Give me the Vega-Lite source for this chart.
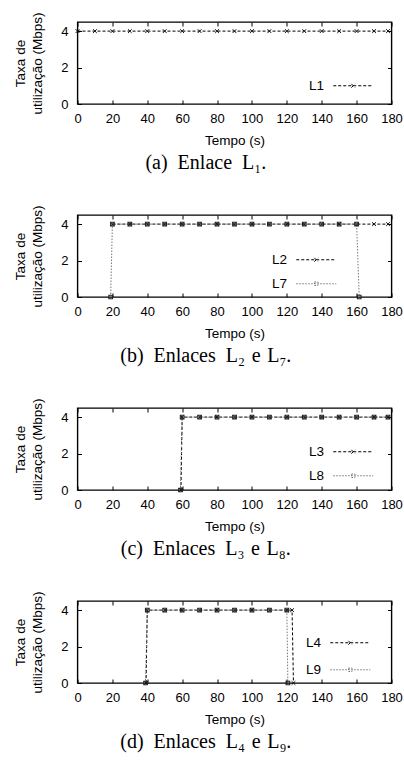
{
  "$schema": "https://vega.github.io/schema/vega-lite/v6.json",
  "padding": {"left": 12.5, "top": 11, "right": 0, "bottom": 0},
  "spacing": 30,
  "datasets": {
    "a": [
      {"s": "L1", "t": 0, "v": 4}, {"s": "L1", "t": 10, "v": 4}, {"s": "L1", "t": 20, "v": 4}, {"s": "L1", "t": 30, "v": 4},
      {"s": "L1", "t": 40, "v": 4}, {"s": "L1", "t": 50, "v": 4}, {"s": "L1", "t": 60, "v": 4}, {"s": "L1", "t": 70, "v": 4},
      {"s": "L1", "t": 80, "v": 4}, {"s": "L1", "t": 90, "v": 4}, {"s": "L1", "t": 100, "v": 4}, {"s": "L1", "t": 110, "v": 4},
      {"s": "L1", "t": 120, "v": 4}, {"s": "L1", "t": 130, "v": 4}, {"s": "L1", "t": 140, "v": 4}, {"s": "L1", "t": 150, "v": 4},
      {"s": "L1", "t": 160, "v": 4}, {"s": "L1", "t": 170, "v": 4}, {"s": "L1", "t": 178, "v": 4}
    ],
    "b": [
      {"s": "L2", "t": 20, "v": 4}, {"s": "L2", "t": 30, "v": 4}, {"s": "L2", "t": 40, "v": 4}, {"s": "L2", "t": 50, "v": 4},
      {"s": "L2", "t": 60, "v": 4}, {"s": "L2", "t": 70, "v": 4}, {"s": "L2", "t": 80, "v": 4}, {"s": "L2", "t": 90, "v": 4},
      {"s": "L2", "t": 100, "v": 4}, {"s": "L2", "t": 110, "v": 4}, {"s": "L2", "t": 120, "v": 4}, {"s": "L2", "t": 130, "v": 4},
      {"s": "L2", "t": 140, "v": 4}, {"s": "L2", "t": 150, "v": 4}, {"s": "L2", "t": 160, "v": 4}, {"s": "L2", "t": 170, "v": 4},
      {"s": "L2", "t": 178, "v": 4},
      {"s": "L7", "t": 19, "v": 0}, {"s": "L7", "t": 20, "v": 4}, {"s": "L7", "t": 30, "v": 4}, {"s": "L7", "t": 40, "v": 4},
      {"s": "L7", "t": 50, "v": 4}, {"s": "L7", "t": 60, "v": 4}, {"s": "L7", "t": 70, "v": 4}, {"s": "L7", "t": 80, "v": 4},
      {"s": "L7", "t": 90, "v": 4}, {"s": "L7", "t": 100, "v": 4}, {"s": "L7", "t": 110, "v": 4}, {"s": "L7", "t": 120, "v": 4},
      {"s": "L7", "t": 130, "v": 4}, {"s": "L7", "t": 140, "v": 4}, {"s": "L7", "t": 150, "v": 4}, {"s": "L7", "t": 160, "v": 4},
      {"s": "L7", "t": 161.5, "v": 0}
    ],
    "c": [
      {"s": "L3", "t": 59.3, "v": 0}, {"s": "L3", "t": 60, "v": 4}, {"s": "L3", "t": 70, "v": 4}, {"s": "L3", "t": 80, "v": 4},
      {"s": "L3", "t": 90, "v": 4}, {"s": "L3", "t": 100, "v": 4}, {"s": "L3", "t": 110, "v": 4}, {"s": "L3", "t": 120, "v": 4},
      {"s": "L3", "t": 130, "v": 4}, {"s": "L3", "t": 140, "v": 4}, {"s": "L3", "t": 150, "v": 4}, {"s": "L3", "t": 160, "v": 4},
      {"s": "L3", "t": 170, "v": 4}, {"s": "L3", "t": 178, "v": 4},
      {"s": "L8", "t": 59, "v": 0}, {"s": "L8", "t": 60, "v": 4}, {"s": "L8", "t": 70, "v": 4}, {"s": "L8", "t": 80, "v": 4},
      {"s": "L8", "t": 90, "v": 4}, {"s": "L8", "t": 100, "v": 4}, {"s": "L8", "t": 110, "v": 4}, {"s": "L8", "t": 120, "v": 4},
      {"s": "L8", "t": 130, "v": 4}, {"s": "L8", "t": 140, "v": 4}, {"s": "L8", "t": 150, "v": 4}, {"s": "L8", "t": 160, "v": 4},
      {"s": "L8", "t": 170, "v": 4}, {"s": "L8", "t": 178, "v": 4}
    ],
    "d": [
      {"s": "L4", "t": 39.3, "v": 0}, {"s": "L4", "t": 40, "v": 4}, {"s": "L4", "t": 50, "v": 4}, {"s": "L4", "t": 60, "v": 4},
      {"s": "L4", "t": 70, "v": 4}, {"s": "L4", "t": 80, "v": 4}, {"s": "L4", "t": 90, "v": 4}, {"s": "L4", "t": 100, "v": 4},
      {"s": "L4", "t": 110, "v": 4}, {"s": "L4", "t": 120, "v": 4}, {"s": "L4", "t": 123, "v": 4}, {"s": "L4", "t": 123.8, "v": 0},
      {"s": "L9", "t": 39, "v": 0}, {"s": "L9", "t": 40, "v": 4}, {"s": "L9", "t": 50, "v": 4}, {"s": "L9", "t": 60, "v": 4},
      {"s": "L9", "t": 70, "v": 4}, {"s": "L9", "t": 80, "v": 4}, {"s": "L9", "t": 90, "v": 4}, {"s": "L9", "t": 100, "v": 4},
      {"s": "L9", "t": 110, "v": 4}, {"s": "L9", "t": 120, "v": 4}, {"s": "L9", "t": 120.6, "v": 0}
    ]
  },
  "vconcat": [
    {
      "width": 314, "height": 82,
      "data": {"name": "a"},
      "title": {"text": "(a)\u2002Enlace\u2002L₁."},
      "layer": [
        {
          "mark": {"type": "line", "strokeWidth": 1},
          "encoding": {
            "x": {"field": "t", "type": "quantitative", "scale": {"domain": [0, 180], "nice": false}, "axis": {"orient": "bottom", "values": [0, 20, 40, 60, 80, 100, 120, 140, 160, 180], "title": "Tempo (s)"}},
            "y": {"field": "v", "type": "quantitative", "scale": {"domain": [0, 4.5], "nice": false}, "axis": {"orient": "left", "values": [0, 2, 4], "title": ["Taxa de", "utilização (Mbps)"]}},
            "color": {"field": "s", "type": "nominal", "scale": {"domain": ["L1"], "range": ["#000000"]},
              "legend": {"orient": "none", "legendX": 269, "legendY": 57, "title": null,
                "encode": {"symbols": {"update": {
                  "shape": {"signal": "(datum.value=='L7'||datum.value=='L8'||datum.value=='L9') ? 'M-4,0H4M-0.35,-0.35H0.35V0.35H-0.35Z' : 'M-4,0H4M-0.38,-0.38L0.38,0.38M-0.38,0.38L0.38,-0.38'"},
                  "strokeDash": {"signal": "(datum.value=='L7'||datum.value=='L8'||datum.value=='L9') ? [1.5,1.5] : [2,1.5]"},
                  "fill": {"value": "transparent"}}}}}},
            "strokeDash": {"field": "s", "type": "nominal", "scale": {"domain": ["L1"], "range": [[3, 2]]}, "legend": null}
          }
        },
        {
          "transform": [{"filter": {"field": "s", "oneOf": ["L1", "L2", "L3", "L4"]}}],
          "mark": {"type": "point", "filled": false, "color": "#111111", "strokeWidth": 1, "size": 14, "opacity": 1, "shape": "M-1,-1L1,1M-1,1L1,-1"},
          "encoding": {
            "x": {"field": "t", "type": "quantitative", "axis": {"orient": "top", "labels": false, "title": null, "values": [0, 20, 40, 60, 80, 100, 120, 140, 160, 180]}},
            "y": {"field": "v", "type": "quantitative", "axis": {"orient": "right", "labels": false, "title": null, "values": [0, 2, 4]}}
          }
        }
      ],
      "resolve": {"axis": {"x": "independent", "y": "independent"}}
    },
    {
      "width": 314, "height": 82,
      "data": {"name": "b"},
      "title": {"text": "(b)\u2002Enlaces\u2002L₂\u2004e\u2004L₇."},
      "layer": [
        {
          "mark": {"type": "line", "strokeWidth": 1},
          "encoding": {
            "x": {"field": "t", "type": "quantitative", "scale": {"domain": [0, 180], "nice": false}, "axis": {"orient": "bottom", "values": [0, 20, 40, 60, 80, 100, 120, 140, 160, 180], "title": "Tempo (s)"}},
            "y": {"field": "v", "type": "quantitative", "scale": {"domain": [0, 4.5], "nice": false}, "axis": {"orient": "left", "values": [0, 2, 4], "title": ["Taxa de", "utilização (Mbps)"]}},
            "color": {"field": "s", "type": "nominal", "scale": {"domain": ["L2", "L7"], "range": ["#000000", "#777777"]},
              "legend": {"orient": "none", "legendX": 232, "legendY": 38, "title": null,
                "encode": {"symbols": {"update": {
                  "shape": {"signal": "(datum.value=='L7'||datum.value=='L8'||datum.value=='L9') ? 'M-4,0H4M-0.35,-0.35H0.35V0.35H-0.35Z' : 'M-4,0H4M-0.38,-0.38L0.38,0.38M-0.38,0.38L0.38,-0.38'"},
                  "strokeDash": {"signal": "(datum.value=='L7'||datum.value=='L8'||datum.value=='L9') ? [1.5,1.5] : [2,1.5]"},
                  "fill": {"value": "transparent"}}}}}},
            "strokeDash": {"field": "s", "type": "nominal", "scale": {"domain": ["L2", "L7"], "range": [[3, 2], [1.5, 1.5]]}, "legend": null}
          }
        },
        {
          "transform": [{"filter": {"field": "s", "oneOf": ["L1", "L2", "L3", "L4"]}}],
          "mark": {"type": "point", "filled": false, "color": "#111111", "strokeWidth": 1, "size": 14, "opacity": 1, "shape": "M-1,-1L1,1M-1,1L1,-1"},
          "encoding": {
            "x": {"field": "t", "type": "quantitative", "axis": {"orient": "top", "labels": false, "title": null, "values": [0, 20, 40, 60, 80, 100, 120, 140, 160, 180]}},
            "y": {"field": "v", "type": "quantitative", "axis": {"orient": "right", "labels": false, "title": null, "values": [0, 2, 4]}}
          }
        },
        {
          "transform": [{"filter": {"field": "s", "oneOf": ["L7", "L8", "L9"]}}],
          "mark": {"type": "point", "filled": false, "color": "#222222", "strokeWidth": 1.1, "size": 13, "opacity": 1, "shape": "square"},
          "encoding": {
            "x": {"field": "t", "type": "quantitative", "axis": null},
            "y": {"field": "v", "type": "quantitative", "axis": null}
          }
        }
      ],
      "resolve": {"axis": {"x": "independent", "y": "independent"}}
    },
    {
      "width": 314, "height": 82,
      "data": {"name": "c"},
      "title": {"text": "(c)\u2002Enlaces\u2002L₃\u2004e\u2004L₈."},
      "layer": [
        {
          "mark": {"type": "line", "strokeWidth": 1},
          "encoding": {
            "x": {"field": "t", "type": "quantitative", "scale": {"domain": [0, 180], "nice": false}, "axis": {"orient": "bottom", "values": [0, 20, 40, 60, 80, 100, 120, 140, 160, 180], "title": "Tempo (s)"}},
            "y": {"field": "v", "type": "quantitative", "scale": {"domain": [0, 4.5], "nice": false}, "axis": {"orient": "left", "values": [0, 2, 4], "title": ["Taxa de", "utilização (Mbps)"]}},
            "color": {"field": "s", "type": "nominal", "scale": {"domain": ["L3", "L8"], "range": ["#000000", "#777777"]},
              "legend": {"orient": "none", "legendX": 269, "legendY": 37, "title": null,
                "encode": {"symbols": {"update": {
                  "shape": {"signal": "(datum.value=='L7'||datum.value=='L8'||datum.value=='L9') ? 'M-4,0H4M-0.35,-0.35H0.35V0.35H-0.35Z' : 'M-4,0H4M-0.38,-0.38L0.38,0.38M-0.38,0.38L0.38,-0.38'"},
                  "strokeDash": {"signal": "(datum.value=='L7'||datum.value=='L8'||datum.value=='L9') ? [1.5,1.5] : [2,1.5]"},
                  "fill": {"value": "transparent"}}}}}},
            "strokeDash": {"field": "s", "type": "nominal", "scale": {"domain": ["L3", "L8"], "range": [[3, 2], [1.5, 1.5]]}, "legend": null}
          }
        },
        {
          "transform": [{"filter": {"field": "s", "oneOf": ["L1", "L2", "L3", "L4"]}}],
          "mark": {"type": "point", "filled": false, "color": "#111111", "strokeWidth": 1, "size": 14, "opacity": 1, "shape": "M-1,-1L1,1M-1,1L1,-1"},
          "encoding": {
            "x": {"field": "t", "type": "quantitative", "axis": {"orient": "top", "labels": false, "title": null, "values": [0, 20, 40, 60, 80, 100, 120, 140, 160, 180]}},
            "y": {"field": "v", "type": "quantitative", "axis": {"orient": "right", "labels": false, "title": null, "values": [0, 2, 4]}}
          }
        },
        {
          "transform": [{"filter": {"field": "s", "oneOf": ["L7", "L8", "L9"]}}],
          "mark": {"type": "point", "filled": false, "color": "#222222", "strokeWidth": 1.1, "size": 13, "opacity": 1, "shape": "square"},
          "encoding": {
            "x": {"field": "t", "type": "quantitative", "axis": null},
            "y": {"field": "v", "type": "quantitative", "axis": null}
          }
        }
      ],
      "resolve": {"axis": {"x": "independent", "y": "independent"}}
    },
    {
      "width": 314, "height": 82,
      "data": {"name": "d"},
      "title": {"text": "(d)\u2002Enlaces\u2002L₄\u2004e\u2004L₉."},
      "layer": [
        {
          "mark": {"type": "line", "strokeWidth": 1},
          "encoding": {
            "x": {"field": "t", "type": "quantitative", "scale": {"domain": [0, 180], "nice": false}, "axis": {"orient": "bottom", "values": [0, 20, 40, 60, 80, 100, 120, 140, 160, 180], "title": "Tempo (s)"}},
            "y": {"field": "v", "type": "quantitative", "scale": {"domain": [0, 4.5], "nice": false}, "axis": {"orient": "left", "values": [0, 2, 4], "title": ["Taxa de", "utilização (Mbps)"]}},
            "color": {"field": "s", "type": "nominal", "scale": {"domain": ["L4", "L9"], "range": ["#000000", "#777777"]},
              "legend": {"orient": "none", "legendX": 266, "legendY": 35, "rowPadding": 12, "title": null,
                "encode": {"symbols": {"update": {
                  "shape": {"signal": "(datum.value=='L7'||datum.value=='L8'||datum.value=='L9') ? 'M-4,0H4M-0.35,-0.35H0.35V0.35H-0.35Z' : 'M-4,0H4M-0.38,-0.38L0.38,0.38M-0.38,0.38L0.38,-0.38'"},
                  "strokeDash": {"signal": "(datum.value=='L7'||datum.value=='L8'||datum.value=='L9') ? [1.5,1.5] : [2,1.5]"},
                  "fill": {"value": "transparent"}}}}}},
            "strokeDash": {"field": "s", "type": "nominal", "scale": {"domain": ["L4", "L9"], "range": [[3, 2], [1.5, 1.5]]}, "legend": null}
          }
        },
        {
          "transform": [{"filter": {"field": "s", "oneOf": ["L1", "L2", "L3", "L4"]}}],
          "mark": {"type": "point", "filled": false, "color": "#111111", "strokeWidth": 1, "size": 14, "opacity": 1, "shape": "M-1,-1L1,1M-1,1L1,-1"},
          "encoding": {
            "x": {"field": "t", "type": "quantitative", "axis": {"orient": "top", "labels": false, "title": null, "values": [0, 20, 40, 60, 80, 100, 120, 140, 160, 180]}},
            "y": {"field": "v", "type": "quantitative", "axis": {"orient": "right", "labels": false, "title": null, "values": [0, 2, 4]}}
          }
        },
        {
          "transform": [{"filter": {"field": "s", "oneOf": ["L7", "L8", "L9"]}}],
          "mark": {"type": "point", "filled": false, "color": "#222222", "strokeWidth": 1.1, "size": 13, "opacity": 1, "shape": "square"},
          "encoding": {
            "x": {"field": "t", "type": "quantitative", "axis": null},
            "y": {"field": "v", "type": "quantitative", "axis": null}
          }
        }
      ],
      "resolve": {"axis": {"x": "independent", "y": "independent"}}
    }
  ],
  "resolve": {
    "scale": {"color": "independent", "strokeDash": "independent", "x": "independent", "y": "independent"},
    "legend": {"color": "independent"}
  },
  "config": {
    "font": "Liberation Sans",
    "view": {"stroke": "#000000", "strokeWidth": 1.4},
    "axis": {
      "domain": false, "grid": false, "ticks": true, "tickSize": -4, "tickColor": "#000000", "tickWidth": 1,
      "labelFont": "Liberation Sans", "labelFontSize": 13, "labelColor": "#000000", "labelFlush": false, "labelOverlap": false,
      "titleFont": "Liberation Sans", "titleFontSize": 13.5, "titleFontWeight": "normal", "titleColor": "#000000"
    },
    "axisX": {"labelPadding": 12.5, "titlePadding": 8},
    "axisY": {"labelPadding": 13.5, "titlePadding": 16.5, "titleLineHeight": 17, "titleFontSize": 13.5},
    "legend": {
      "labelFont": "Liberation Sans", "labelFontSize": 13.5, "labelColor": "#000000",
      "symbolSize": 100, "symbolStrokeWidth": 1, "labelAlign": "right", "labelOffset": -36, "rowPadding": 9, "padding": 0
    },
    "title": {"orient": "bottom", "font": "Liberation Serif", "fontSize": 20, "fontWeight": "normal", "color": "#000000", "anchor": "middle", "frame": "bounds", "offset": 6, "dx": -2}
  }
}
